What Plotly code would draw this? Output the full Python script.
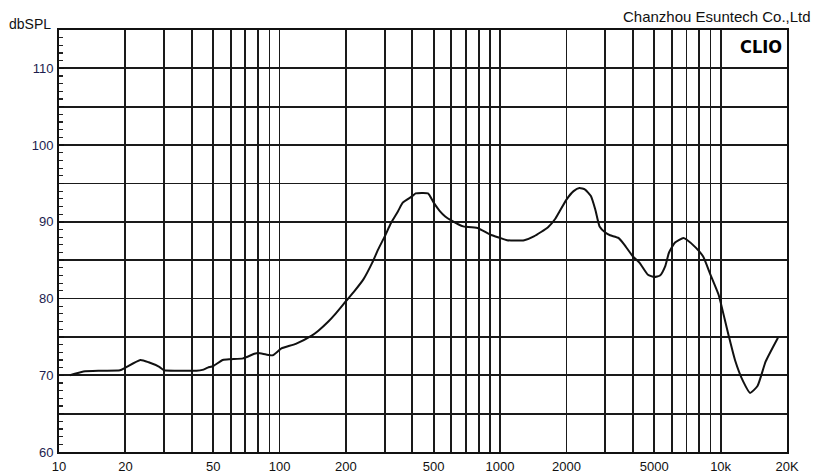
import plotly.graph_objects as go

# Frequency response (Hz, dBSPL)
freq_hz = [11.2, 12.9, 15.5, 18.9, 20, 23.4, 25.5, 28.5, 30, 36, 42, 44.7, 47.3, 50,
           55.3, 60, 68.3, 76.9, 80, 86.9, 93.1, 102, 118.5, 140.5, 150, 166.5, 178,
           200, 219, 240, 263, 280, 300, 321, 345, 362, 400, 414, 471, 500, 533, 564,
           600, 681, 700, 790, 900, 1000, 1075, 1287, 1423, 1650, 1780, 2000, 2155,
           2291, 2430, 2581, 2702, 2826, 3000, 3153, 3442, 3664, 4000, 4293, 4684,
           5000, 5311, 5605, 5837, 6214, 6782, 7000, 7736, 8321, 9000, 9792, 10437,
           10892, 11617, 12655, 13607, 14700, 16010, 18200]
spl_db = [70.0, 70.5, 70.6, 70.65, 71.0, 72.0, 71.7, 71.1, 70.65, 70.6, 70.6, 70.7, 71.0,
          71.2, 72.0, 72.1, 72.2, 72.8, 72.9, 72.7, 72.6, 73.5, 74.1, 75.2, 75.8, 77.0,
          77.9, 79.65, 81.0, 82.5, 84.65, 86.4, 88.1, 89.9, 91.4, 92.5, 93.35, 93.7,
          93.7, 92.5, 91.4, 90.7, 90.2, 89.4, 89.35, 89.2, 88.35, 87.9, 87.6, 87.6,
          88.1, 89.3, 90.4, 92.9, 94.0, 94.4, 94.2, 93.35, 91.6, 89.4, 88.6, 88.25,
          87.9, 87.0, 85.5, 84.65, 83.1, 82.8, 83.0, 84.2, 86.0, 87.3, 87.9, 87.7,
          86.6, 85.5, 83.1, 80.5, 77.3, 75.1, 72.0, 69.2, 67.7, 68.6, 71.8, 74.9]

x_tick_vals = [10, 20, 50, 100, 200, 500, 1000, 2000, 5000, 10000, 20000]
x_tick_text = ["10", "20", "50", "100", "200", "500", "1000", "2000", "5000", "10k", "20K"]
x_grid_vals = [m * d for d in (10, 100, 1000) for m in range(1, 10)] + [10000, 20000]

y_tick_vals = [60, 65, 70, 75, 80, 85, 90, 95, 100, 105, 110, 115]
y_tick_text = ["60", "", "70", "", "80", "", "90", "", "100", "", "110", ""]

fig = go.Figure()
fig.add_trace(go.Scatter(
    x=freq_hz, y=spl_db, mode="lines",
    line=dict(color="#111111", width=2, shape="spline", smoothing=0.5),
    hoverinfo="skip", showlegend=False,
))

fig.update_layout(
    width=818, height=476,
    margin=dict(l=59, r=31, t=30, b=24, autoexpand=False),
    paper_bgcolor="white", plot_bgcolor="white",
    font=dict(family="Liberation Sans, Arial, sans-serif", color="#111111"),
    xaxis=dict(
        type="log", range=[1, 4.30103], automargin=False,
        tickmode="array", tickvals=x_tick_vals, ticktext=x_tick_text,
        tickfont=dict(size=13, color="#111111"),
        showgrid=True, gridcolor="#1a1a1a", gridwidth=1.9,
        minor=dict(tickmode="array", tickvals=x_grid_vals, showgrid=True,
                   gridcolor="#1a1a1a", gridwidth=1.9, ticks=""),
        showline=True, linecolor="#111111", linewidth=2, mirror=True,
        ticks="", zeroline=False, ticklabelstandoff=1,
    ),
    yaxis=dict(
        range=[60, 115], automargin=False,
        tickmode="array", tickvals=y_tick_vals, ticktext=y_tick_text,
        tickfont=dict(size=13, color="#1c1c4e"),
        showgrid=True, gridcolor="#1a1a1a", gridwidth=1.9,
        ticks="inside", ticklen=5, tickcolor="#111111", tickwidth=1.5,
        minor=dict(dtick=1, ticks="inside", ticklen=4, tickcolor="#222222",
                   tickwidth=1.2, showgrid=False),
        showline=True, linecolor="#111111", linewidth=2, mirror=True,
        zeroline=False, ticklabelstandoff=1,
    ),
    annotations=[
        dict(text="dbSPL", xref="paper", yref="paper", x=-0.071, y=1.014,
             xanchor="left", yanchor="middle", showarrow=False,
             font=dict(size=14, color="#111111")),
        dict(text="Chanzhou Esuntech Co.,Ltd", xref="paper", yref="paper",
             x=1.0357, y=1.033, xanchor="right", yanchor="middle",
             showarrow=False, font=dict(size=15, color="#111111")),
        dict(text="CLIO", xref="paper", yref="paper", x=0.964, y=0.962,
             xanchor="center", yanchor="middle", showarrow=False,
             font=dict(family="DejaVu Sans Condensed, DejaVu Sans", weight="bold",
                       size=18, color="#000000")),
    ],
)

fig.write_html(
    "out.html",
    config={"displayModeBar": False, "staticPlot": True},
    post_script="document.body.style.margin='0';document.body.style.overflow='hidden';",
)
